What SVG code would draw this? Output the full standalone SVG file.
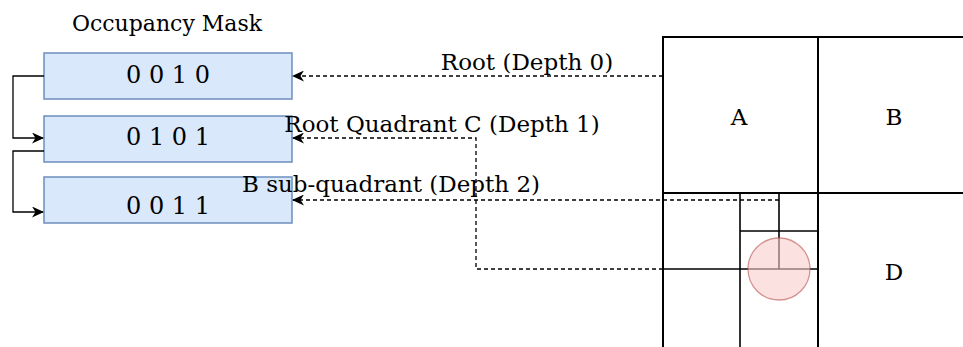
<svg xmlns="http://www.w3.org/2000/svg" width="963" height="347" viewBox="0 0 963 347">
  <defs>
    <style>
      .t { font-family: "DejaVu Serif", "Liberation Serif", serif; fill: #000; text-anchor: middle; }
      .lbl { font-size: 23px; }
      .title { font-size: 22px; }
      .bits { font-size: 24px; word-spacing: 0px; }
      .mask { fill: #dae8fc; stroke: #6c8ebf; stroke-width: 1.5; }
      .grid { fill: none; stroke: #000; stroke-width: 2; }
      .sub { fill: none; stroke: #000; stroke-width: 1.6; }
      .dash { fill: none; stroke: #000; stroke-width: 1.3; stroke-dasharray: 4 3; }
      .solid { fill: none; stroke: #000; stroke-width: 1.3; }
    </style>
    <marker id="arrow" viewBox="0 0 12 11" refX="11" refY="5.5" markerWidth="13" markerHeight="11" markerUnits="userSpaceOnUse" orient="auto">
      <path d="M0,0 L12,5.5 L0,11 L3.5,5.5 Z" fill="#000"/>
    </marker>
  </defs>

  <text class="t title" x="167" y="31">Occupancy Mask</text>

  <g id="mask-depth0">
    <rect class="mask" x="44" y="53" width="248" height="46"/>
    <text class="t bits" x="168" y="83">0 0 1 0</text>
  </g>
  <g id="mask-depth1">
    <rect class="mask" x="44" y="116" width="248" height="46"/>
    <text class="t bits" x="168" y="145">0 1 0 1</text>
  </g>
  <g id="mask-depth2">
    <rect class="mask" x="44" y="177" width="248" height="46"/>
    <text class="t bits" x="168" y="214">0 0 1 1</text>
  </g>

  <g id="quadtree">
    <rect class="grid" x="663" y="37" width="312" height="312"/>
    <line class="grid" x1="818" y1="37" x2="818" y2="349"/>
    <line class="grid" x1="663" y1="193" x2="975" y2="193"/>
    <line class="sub" x1="740" y1="193" x2="740" y2="349"/>
    <line class="sub" x1="663" y1="269" x2="818" y2="269"/>
    <line class="sub" x1="740" y1="231" x2="818" y2="231"/>
    <line class="sub" x1="779" y1="193" x2="779" y2="269"/>
    <circle cx="779" cy="269" r="31" fill="#f8cecc" fill-opacity="0.6" stroke="#b85450" stroke-opacity="0.6" stroke-width="1.3"/>
    <text class="t lbl" x="739" y="125">A</text>
    <text class="t lbl" x="894" y="125">B</text>
    <text class="t lbl" x="894" y="280">D</text>
  </g>

  <g id="connectors">
    <path class="solid" d="M44,76 H13 V138 H43" marker-end="url(#arrow)"/>
    <path class="solid" d="M44,151 H13 V212 H43" marker-end="url(#arrow)"/>
    <path class="dash" d="M663,76 H293" marker-end="url(#arrow)"/>
    <path class="dash" d="M663,269 H476 V138 H293" marker-end="url(#arrow)"/>
    <path class="dash" d="M779,200 H293" marker-end="url(#arrow)"/>
  </g>

  <g id="labels">
    <text class="t lbl" x="527" y="70">Root (Depth 0)</text>
    <text class="t lbl" x="442" y="132">Root Quadrant C (Depth 1)</text>
    <text class="t lbl" x="391" y="192">B sub-quadrant (Depth 2)</text>
  </g>
</svg>
